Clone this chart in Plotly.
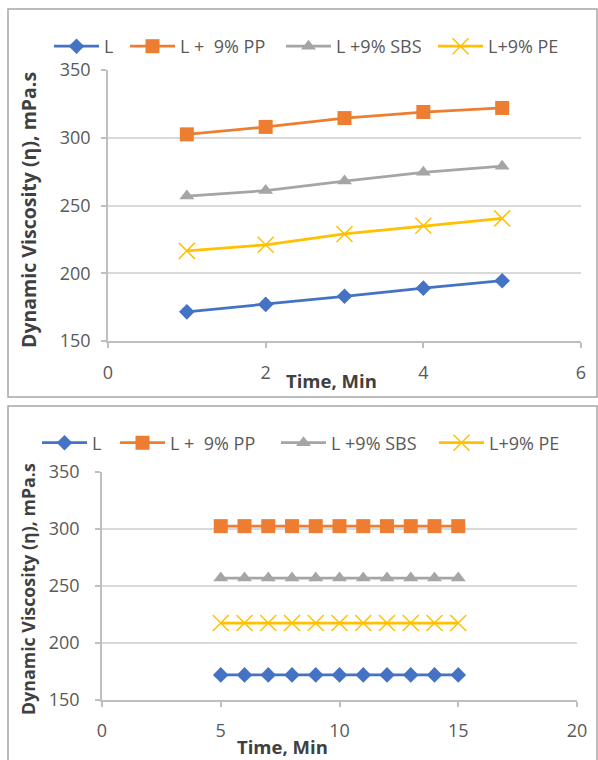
import plotly.graph_objects as go

# ---------------- data ----------------
series_names = ["L", "L +  9% PP", "L +9% SBS", "L+9% PE"]

time_top = [1, 2, 3, 4, 5]
L_top = [171.5, 177, 183, 189, 194.5]
PP_top = [302.5, 308, 314.5, 319, 322]
SBS_top = [257, 261, 268, 274.5, 279]
PE_top = [216.5, 221, 229, 235, 240.5]

time_bottom = [5, 6, 7, 8, 9, 10, 11, 12, 13, 14, 15]
L_bottom = [172, 172, 172, 172, 172, 172, 172, 172, 172, 172, 172]
PP_bottom = [302.5, 302.5, 302.5, 302.5, 302.5, 302.5, 302.5, 302.5, 302.5, 302.5, 302.5]
SBS_bottom = [257, 257, 257, 257, 257, 257, 257, 257, 257, 257, 257]
PE_bottom = [217.5, 217.5, 217.5, 217.5, 217.5, 217.5, 217.5, 217.5, 217.5, 217.5, 217.5]

y_title = "Dynamic Viscosity (η), mPa.s"
x_title = "Time, Min"

# ---------------- styling ----------------
W, H = 598, 760
FONT = "Open Sans, Roboto, sans-serif"
colors = ["#4472C4", "#ED7D31", "#A5A5A5", "#FFC000"]
symbols = ["diamond", "square", "triangle-up", "x-thin-open"]
msizes = [12, 14, 13, 16]
# legend entry positions (px from left) for each panel
legend_x_top = [49, 125, 281, 433]
legend_x_bottom = [37, 115, 276, 434]

def px_x(x):
    return x / W

def px_y(y):
    return 1 - y / H

fig = go.Figure()

top_sets = [L_top, PP_top, SBS_top, PE_top]
bot_sets = [L_bottom, PP_bottom, SBS_bottom, PE_bottom]

def marker(i):
    mk = dict(symbol=symbols[i], size=msizes[i], color=colors[i])
    if symbols[i] == "x-thin-open":
        mk["line"] = dict(color=colors[i], width=1.5)
    return mk

for i, name in enumerate(series_names):
    fig.add_trace(go.Scatter(
        x=time_top, y=top_sets[i], name=name, mode="lines+markers",
        line=dict(color=colors[i], width=2.75), marker=marker(i), showlegend=True,
        xaxis="x", yaxis="y", legend="legend" if i == 0 else f"legend{i + 1}"))
for i, name in enumerate(series_names):
    fig.add_trace(go.Scatter(
        x=time_bottom, y=bot_sets[i], name=name, mode="lines+markers",
        line=dict(color=colors[i], width=2.75), marker=marker(i), showlegend=True,
        xaxis="x2", yaxis="y2", legend=f"legend{i + 5}"))

axis_common = dict(
    showline=True, linecolor="#bfbfbf", linewidth=1.5,
    ticks="outside", tickcolor="#bfbfbf", ticklen=5, tickwidth=1.5,
    tickfont=dict(family=FONT, size=18, color="#595959"),
    zeroline=False, automargin=False,
)

fig.update_layout(
    xaxis=dict(domain=[px_x(108), px_x(581)], range=[0, 6], dtick=2,
               showgrid=False, anchor="y", ticklabelstandoff=10, **axis_common),
    yaxis=dict(domain=[px_y(341), px_y(70)], range=[150, 350], dtick=50,
               showgrid=True, gridcolor="#d9d9d9", gridwidth=1.5,
               anchor="x", ticklabelstandoff=7, **axis_common),
    xaxis2=dict(domain=[px_x(102), px_x(577)], range=[0, 20], dtick=5,
                showgrid=False, anchor="y2", ticklabelstandoff=9, **axis_common),
    yaxis2=dict(domain=[px_y(700), px_y(472)], range=[150, 350], dtick=50,
                showgrid=True, gridcolor="#d9d9d9", gridwidth=1.5,
                anchor="x2", ticklabelstandoff=12, **axis_common),
)

legend_common = dict(orientation="h", xanchor="left", yanchor="middle",
                     font=dict(family=FONT, size=18, color="#595959"),
                     bgcolor="rgba(0,0,0,0)", itemwidth=45, visible=True)
legends = {}
for i in range(4):
    key = "legend" if i == 0 else f"legend{i + 1}"
    legends[key] = dict(x=px_x(legend_x_top[i]), y=px_y(46.5), **legend_common)
    legends[f"legend{i + 5}"] = dict(x=px_x(legend_x_bottom[i]), y=px_y(443), **legend_common)
fig.update_layout(showlegend=True, **legends)

# panel borders
border = dict(color="#a6a6a6", width=1.5)
fig.add_shape(type="rect", xref="paper", yref="paper",
              x0=px_x(8), x1=px_x(597), y0=px_y(397), y1=px_y(9), line=border)
fig.add_shape(type="rect", xref="paper", yref="paper",
              x0=px_x(8), x1=px_x(597), y0=px_y(775), y1=px_y(406), line=border)

ann = [
    dict(text="<b>" + x_title + "</b>", x=px_x(331), y=px_y(381), size=18.5),
    dict(text="<b>" + x_title + "</b>", x=px_x(282), y=px_y(746.5), size=18.5),
    dict(text="<b>" + y_title + "</b>", x=px_x(28), y=px_y(210), size=19.5, textangle=-90),
    dict(text="<b>" + y_title + "</b>", x=px_x(28), y=px_y(589), size=17.8, textangle=-90),
]
for a in ann:
    size = a.pop("size")
    fig.add_annotation(xref="paper", yref="paper", showarrow=False,
                       xanchor="center", yanchor="middle",
                       font=dict(family=FONT, size=size, color="#404040"), **a)

fig.update_layout(width=W, height=H, margin=dict(l=0, r=0, t=0, b=0, autoexpand=False),
                  paper_bgcolor="white", plot_bgcolor="white",
                  font=dict(family=FONT))

fig.write_html("out.html", config={"displayModeBar": False},
               post_script="document.body.style.margin='0';")
